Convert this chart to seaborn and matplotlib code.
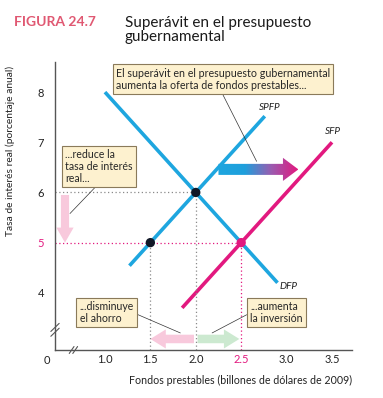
import numpy as np
import pandas as pd
import matplotlib
matplotlib.use("Agg")
import matplotlib.pyplot as plt
import seaborn as sns
from matplotlib.patches import FancyArrow
from matplotlib.colors import LinearSegmentedColormap

sns.set_style("white")
plt.rcParams['font.family'] = ['Lato', 'DejaVu Sans']

# data
dfp_x = [1.0, 2.9]
dfp_y = [8.0, 4.2]
spfp_x = [1.27, 2.76]
spfp_y = [4.54, 7.52]
sfp_x = [1.85, 3.5]
sfp_y = [3.70, 7.0]
eq_old = (2.0, 6.0)
eq_surplus = (2.5, 5.0)
eq_savings = (1.5, 5.0)
x_ticks = [1.0, 1.5, 2.0, 2.5, 3.0, 3.5]
y_ticks = [4, 5, 6, 7, 8]

blue = "#1ea6df"
magenta = "#e2197f"
grey_dot = "#8a8a8a"
box_face = "#fdf1cf"
box_edge = "#8a7a5a"

fig = plt.figure(figsize=(3.83, 3.98), dpi=100)
ax = fig.add_axes([0.1436, 0.1206, 0.7754, 0.7236])

lines = pd.concat([
    pd.DataFrame({"x": dfp_x, "y": dfp_y, "curva": "DFP"}),
    pd.DataFrame({"x": spfp_x, "y": spfp_y, "curva": "SPFP"}),
    pd.DataFrame({"x": sfp_x, "y": sfp_y, "curva": "SFP"}),
])
sns.lineplot(data=lines, x="x", y="y", hue="curva", units="curva", estimator=None,
             palette={"DFP": blue, "SPFP": blue, "SFP": magenta},
             linewidth=2.6, legend=False, ax=ax, solid_capstyle="butt")

# dotted guides
ax.plot([0.45, eq_old[0]], [eq_old[1]] * 2, ls=(0, (1, 2)), color=grey_dot, lw=0.9)
ax.plot([eq_old[0]] * 2, [2.86, eq_old[1]], ls=(0, (1, 2)), color=grey_dot, lw=0.9)
ax.plot([eq_savings[0]] * 2, [2.86, eq_savings[1]], ls=(0, (1, 2)), color=grey_dot, lw=0.9)
ax.plot([0.45, eq_surplus[0]], [eq_surplus[1]] * 2, ls=(0, (1, 2)), color=magenta, lw=0.9)
ax.plot([eq_surplus[0]] * 2, [2.86, eq_surplus[1]], ls=(0, (1, 2)), color=magenta, lw=0.9)

pts = pd.DataFrame({"x": [eq_old[0], eq_savings[0], eq_surplus[0]],
                    "y": [eq_old[1], eq_savings[1], eq_surplus[1]],
                    "k": ["a", "b", "c"]})
sns.scatterplot(data=pts, x="x", y="y", hue="k", palette={"a": "#111827", "b": "#111827", "c": magenta},
                s=45, edgecolor="none", legend=False, ax=ax, zorder=5)

# curve labels
ax.text(2.82, 7.7, "SPFP", fontsize=7.2, style="italic", color="#222", ha="center", va="center")
ax.text(3.51, 7.22, "SFP", fontsize=7.2, style="italic", color="#222", ha="center", va="center")
ax.text(3.02, 4.12, "DFP", fontsize=7.2, style="italic", color="#222", ha="center", va="center")

# shift arrows
ax.add_patch(FancyArrow(0.56, eq_old[1] - 0.05, 0, -0.95, width=0.09, head_width=0.19,
                        head_length=0.3, length_includes_head=True, color="#f8c9dc", lw=0))
ax.add_patch(FancyArrow(eq_old[0] - 0.02, 3.08, -(eq_old[0] - eq_savings[0] - 0.02), 0, width=0.17,
                        head_width=0.38, head_length=0.17, length_includes_head=True,
                        color="#f8c9dc", lw=0))
ax.add_patch(FancyArrow(eq_old[0] + 0.02, 3.08, eq_surplus[0] - eq_old[0] - 0.04, 0, width=0.17,
                        head_width=0.38, head_length=0.17, length_includes_head=True,
                        color="#cce9d0", lw=0))

# gradient arrow
garrow = FancyArrow(2.25, 6.46, 0.88, 0, width=0.22, head_width=0.46, head_length=0.17,
                    length_includes_head=True, facecolor="none", edgecolor="none")
ax.add_patch(garrow)
cmap = LinearSegmentedColormap.from_list("g", [blue, "#1e9fdc", "#9a5cb0", magenta])
im = ax.imshow(np.linspace(0, 1, 256).reshape(1, -1), extent=[2.25, 3.13, 6.2, 6.72],
               cmap=cmap, aspect="auto", zorder=4)
im.set_clip_path(garrow)

# annotation boxes
bbox = dict(boxstyle="square,pad=0.3", fc=box_face, ec=box_edge, lw=0.8)
lp = dict(arrowstyle="-", color="#333", lw=0.5, shrinkA=0, shrinkB=0)
ax.annotate("El superávit en el presupuesto gubernamental\naumenta la oferta de fondos prestables...",
            xy=(2.67, 6.62), xytext=(1.12, 8.26), fontsize=7.7, va="center", ha="left",
            linespacing=1.1, bbox=bbox, arrowprops=dict(lp, relpos=(0.49, 0)), zorder=6)
ax.annotate("...reduce la\ntasa de interés\nreal...", xy=(0.615, 5.58), xytext=(0.565, 6.52),
            fontsize=7.6, va="center", ha="left", linespacing=1.1, bbox=bbox,
            arrowprops=dict(lp, relpos=(0.49, 0)), zorder=6)
ax.annotate("...disminuye\nel ahorro", xy=(1.83, 3.2), xytext=(0.72, 3.6),
            fontsize=7.6, va="center", ha="left", linespacing=1.1, bbox=bbox,
            arrowprops=dict(lp, relpos=(1, 0.5)), zorder=6)
ax.annotate("...aumenta\nla inversión", xy=(2.18, 3.2), xytext=(2.6, 3.6),
            fontsize=7.6, va="center", ha="left", linespacing=1.1, bbox=bbox,
            arrowprops=dict(lp, relpos=(0, 0.5)), zorder=6)

# axes
ax.set_xlim(0.45, 3.72)
ax.set_ylim(2.86, 8.6)
ax.set_xticks(x_ticks)
ax.set_xticklabels([f"{v:.1f}" for v in x_ticks])
ax.set_yticks(y_ticks)
ax.set_yticklabels([str(v) for v in y_ticks])
ax.tick_params(axis="x", direction="in", length=5, width=1.8, labelsize=8, pad=3, colors="#222")
ax.tick_params(axis="y", direction="out", length=4, width=1.8, labelsize=8, pad=4, colors="#222")
for lab in ax.get_xticklabels():
    if lab.get_text() == "2.5":
        lab.set_color(magenta)
for lab in ax.get_yticklabels():
    if lab.get_text() == "5":
        lab.set_color(magenta)
for s in ["top", "right"]:
    ax.spines[s].set_visible(False)
for s in ["left", "bottom"]:
    ax.spines[s].set_color("#555")
    ax.spines[s].set_linewidth(1.0)

ax.set_xlabel("Fondos prestables (billones de dólares de 2009)", fontsize=7.7, color="#222",
              loc="right", labelpad=7)
ax.set_ylabel("Tasa de interés real (porcentaje anual)", fontsize=7.4, color="#222")
ax.yaxis.set_label_coords(-0.135, 0.69)
ax.text(-0.027, -0.018, "0", transform=ax.transAxes, fontsize=8, ha="center", va="top", color="#222")

# axis break marks
for dx in (-0.006, 0.006):
    ax.plot([0.062 + dx - 0.008, 0.062 + dx + 0.008], [-0.012, 0.012], transform=ax.transAxes,
            color="#555", lw=0.8, clip_on=False)
    ax.plot([-0.014, 0.014], [0.07 + dx * 1.4 - 0.014, 0.07 + dx * 1.4 + 0.014],
            transform=ax.transAxes, color="#555", lw=0.8, clip_on=False)

# title
fig.text(0.037, 0.945, "FIGURA 24.7", fontsize=10, fontweight="bold", color="#e05872", va="center")
fig.text(0.326, 0.925, "Superávit en el presupuesto\ngubernamental", fontsize=11,
         color="#1a1a1a", va="center", linespacing=0.95)

fig.savefig("out.png", dpi=100)
